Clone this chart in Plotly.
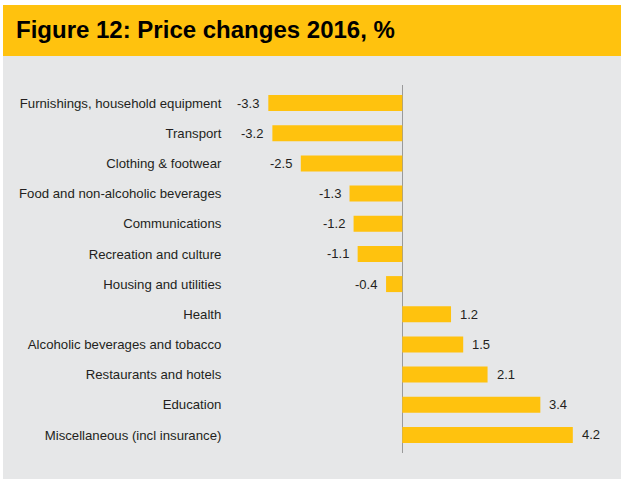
import plotly.graph_objects as go

categories = [
    "Furnishings, household equipment",
    "Transport",
    "Clothing & footwear",
    "Food and non-alcoholic beverages",
    "Communications",
    "Recreation and culture",
    "Housing and utilities",
    "Health",
    "Alcoholic beverages and tobacco",
    "Restaurants and hotels",
    "Education",
    "Miscellaneous (incl insurance)",
]
values = [-3.3, -3.2, -2.5, -1.3, -1.2, -1.1, -0.4, 1.2, 1.5, 2.1, 3.4, 4.2]
title_text = "Figure 12: Price changes 2016, %"

W, H = 621, 479
YELLOW = "#FFC20E"
GRAY = "#E6E7E8"
TEXT = "#231F20"
FONT = "Liberation Sans, Arial, Helvetica, sans-serif"

x0px, x1px = 230, 615
zero_px, ppu = 402.3, 40.6
xmin = (x0px - zero_px) / ppu
xmax = (x1px - zero_px) / ppu
top_px, bot_px = 85, 453

fig = go.Figure(go.Bar(
    x=values, y=categories, orientation="h",
    marker=dict(color=YELLOW, line=dict(width=0)),
    width=0.53, hoverinfo="skip",
))

annotations = []
for c, v in zip(categories, values):
    annotations.append(dict(
        x=v, y=c, xref="x", yref="y", text=f"{v:.1f}", showarrow=False,
        xanchor="right" if v < 0 else "left",
        xshift=-7 if v < 0 else 7,
        font=dict(family=FONT, size=13, color=TEXT),
    ))
annotations.append(dict(
    x=14 / W, y=1 - 29.5 / H, xref="paper", yref="paper", text=f"<b>{title_text}</b>",
    showarrow=False, xanchor="left", yanchor="middle",
    font=dict(family=FONT, size=24, color="#000000"),
))

shapes = [
    dict(type="rect", xref="paper", yref="paper", x0=3 / W, x1=1, y0=1 - 56 / H, y1=1 - 5 / H,
         fillcolor=YELLOW, line=dict(width=0), layer="below"),
    dict(type="rect", xref="paper", yref="paper", x0=3 / W, x1=1, y0=0, y1=1 - 56 / H,
         fillcolor=GRAY, line=dict(width=0), layer="below"),
]

fig.update_layout(
    width=W, height=H,
    margin=dict(l=0, r=0, t=0, b=0),
    paper_bgcolor="white", plot_bgcolor="rgba(0,0,0,0)",
    showlegend=False,
    shapes=shapes, annotations=annotations,
    xaxis=dict(domain=[x0px / W, x1px / W], range=[xmin, xmax], showgrid=False,
               showticklabels=False, zeroline=True, zerolinecolor="#9a9a9a", zerolinewidth=1,
               fixedrange=True),
    yaxis=dict(domain=[1 - bot_px / H, 1 - top_px / H], range=[11.6, -0.6],
               showgrid=False, zeroline=False, ticks="outside", ticklen=5,
               tickcolor="rgba(0,0,0,0)",
               tickfont=dict(family=FONT, size=13.2, color=TEXT), fixedrange=True),
)

fig.write_html("out.html", config={"displayModeBar": False},
               post_script="document.body.style.margin='0';document.body.style.overflow='hidden';")
